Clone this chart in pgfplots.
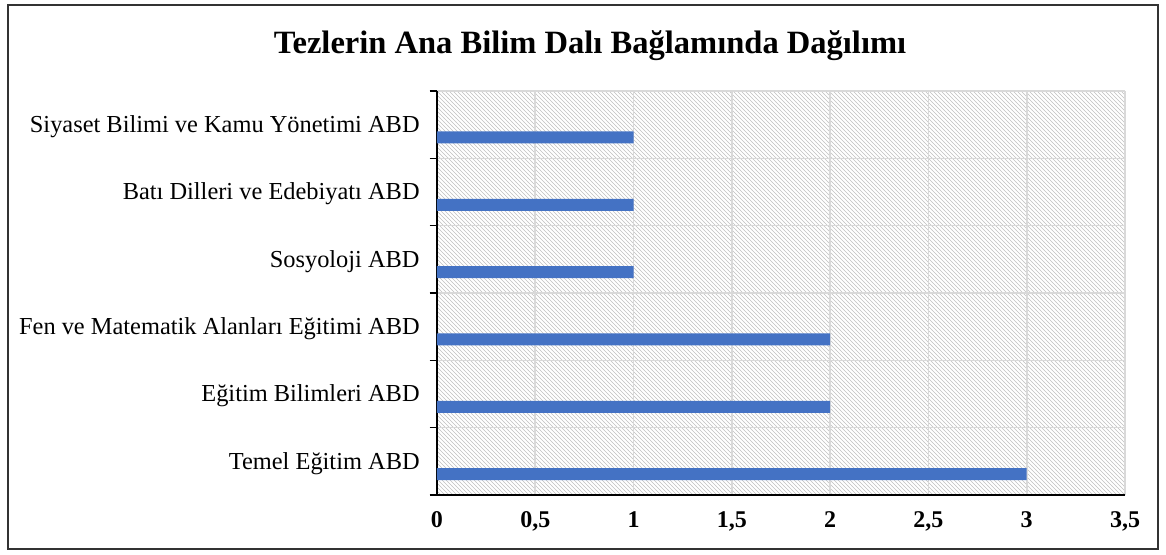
\documentclass[border=0pt]{standalone}
\usepackage{pgfplots}
\pgfplotsset{compat=1.18}
\usetikzlibrary{patterns}
\usepackage{fontspec}
\setmainfont{Liberation Serif}
\definecolor{barblue}{HTML}{4472C4}
\definecolor{gridgray}{HTML}{D9D9D9}
\begin{document}
\begin{tikzpicture}
\useasboundingbox (-327.75pt,-44.25pt) rectangle (546.75pt,371.25pt);
\draw[line width=0.8pt, black!80] (-321.75pt,-40.5pt) rectangle (540.75pt,367.5pt);
\node[font=\fontsize{24.4}{28}\selectfont\bfseries] at (114.75pt,336.8pt) {Tezlerin Ana Bilim Dalı Bağlamında Dağılımı};
\begin{axis}[
  at={(0pt,0pt)}, anchor=south west,
  scale only axis, width=516pt, height=303pt,
  xmin=0, xmax=3.5, ymin=-0.5, ymax=5.5,
  xtick={0,0.5,1,1.5,2,2.5,3,3.5},
  /pgf/number format/use comma,
  /pgf/number format/assume math mode=true,
  xticklabel style={font=\fontsize{18}{21}\selectfont\bfseries, yshift=-9pt},
  xmajorgrids,
  ytick={0,1,2,3,4,5},
  yticklabels={Temel Eğitim ABD, Eğitim Bilimleri ABD, Fen ve Matematik Alanları Eğitimi ABD, Sosyoloji ABD, Batı Dilleri ve Edebiyatı ABD, Siyaset Bilimi ve Kamu Yönetimi ABD},
  yticklabel style={font=\fontsize{18.3}{21}\selectfont, xshift=-9.5pt, yshift=-1.5pt},
  minor ytick={-0.5,0.5,1.5,2.5,3.5,4.5,5.5},
  yminorgrids, ymajorgrids=false,
  grid style={gridgray, line width=1.2pt},
  minor grid style={gridgray, line width=1.2pt},
  axis lines*=left,
  axis line style={-, black, line width=1.2pt},
  tick align=outside,
  major tick length=0pt, minor tick length=5.5pt,
  xtick style={draw=none},
  ytick style={black, line width=1.1pt},
  minor tick style={black, line width=1.1pt},
  axis background/.style={pattern=north west lines, pattern color=black!25},
]
\addplot[xbar, fill=barblue, draw=none, bar width=9pt] coordinates {
  (3,-0.19) (2,0.81) (2,1.81) (1,2.81) (1,3.81) (1,4.81)
};
\end{axis}
\end{tikzpicture}
\end{document}
